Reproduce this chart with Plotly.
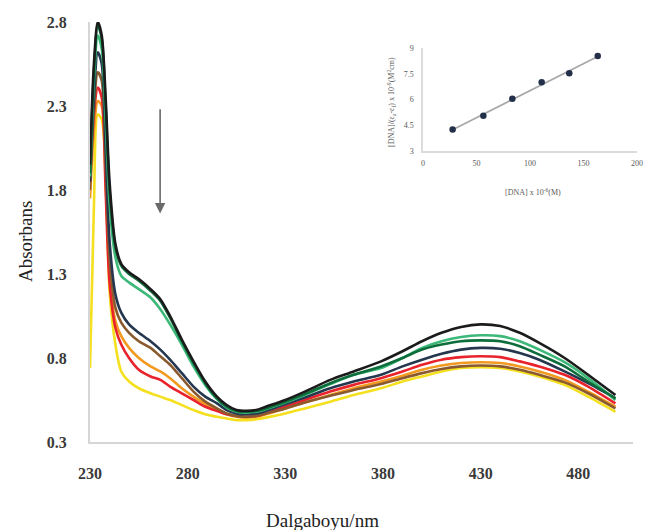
import numpy as np
import plotly.graph_objects as go

# ---- UV-Vis titration spectra ----
wavelength = [230, 232, 234, 236, 238, 240, 243, 246, 250, 255, 261, 266, 271, 277, 283,
              289, 295, 300, 305, 310, 315, 320, 330, 340, 353, 365, 379, 390, 400, 410,
              420, 430, 440, 450, 460, 473, 485, 499]

abs_black = [1.95, 2.55, 2.80, 2.72, 2.35, 1.85, 1.48, 1.36, 1.31, 1.27, 1.21, 1.15, 1.05, 0.91, 0.78,
             0.66, 0.57, 0.52, 0.49, 0.485, 0.49, 0.51, 0.55, 0.60, 0.67, 0.72, 0.78, 0.84, 0.90, 0.95,
             0.985, 1.00, 0.99, 0.95, 0.89, 0.80, 0.70, 0.58]
abs_darkgreen = [1.90, 2.50, 2.78, 2.70, 2.30, 1.80, 1.46, 1.35, 1.30, 1.26, 1.20, 1.14, 1.04, 0.90, 0.77,
                 0.65, 0.56, 0.51, 0.485, 0.48, 0.485, 0.50, 0.54, 0.585, 0.65, 0.70, 0.75, 0.80, 0.85, 0.88,
                 0.90, 0.905, 0.90, 0.87, 0.82, 0.75, 0.66, 0.56]
abs_seagreen = [1.88, 2.45, 2.72, 2.64, 2.22, 1.72, 1.40, 1.29, 1.25, 1.21, 1.16, 1.09, 1.00, 0.88, 0.75,
                0.64, 0.555, 0.505, 0.48, 0.475, 0.48, 0.495, 0.535, 0.58, 0.645, 0.70, 0.74, 0.80, 0.86, 0.90,
                0.925, 0.935, 0.93, 0.90, 0.85, 0.775, 0.68, 0.55]
abs_navy = [1.85, 2.35, 2.62, 2.55, 2.05, 1.50, 1.18, 1.07, 1.00, 0.95, 0.90, 0.85, 0.79, 0.71, 0.63,
            0.57, 0.53, 0.49, 0.47, 0.465, 0.47, 0.485, 0.525, 0.565, 0.62, 0.66, 0.70, 0.75, 0.79, 0.825,
            0.85, 0.86, 0.855, 0.83, 0.79, 0.72, 0.65, 0.56]
abs_brown = [1.80, 2.28, 2.50, 2.45, 1.95, 1.40, 1.10, 1.01, 0.95, 0.90, 0.86, 0.81, 0.76, 0.68, 0.60,
             0.54, 0.50, 0.47, 0.455, 0.45, 0.455, 0.47, 0.50, 0.535, 0.575, 0.61, 0.645, 0.68, 0.71, 0.735,
             0.75, 0.755, 0.75, 0.73, 0.70, 0.655, 0.59, 0.50]
abs_red = [1.85, 2.25, 2.41, 2.35, 1.80, 1.25, 0.98, 0.88, 0.80, 0.73, 0.69, 0.67, 0.63, 0.59, 0.55,
           0.51, 0.485, 0.465, 0.455, 0.45, 0.455, 0.47, 0.51, 0.55, 0.60, 0.64, 0.68, 0.72, 0.76, 0.79,
           0.805, 0.81, 0.805, 0.78, 0.75, 0.70, 0.63, 0.53]
abs_orange = [1.75, 2.15, 2.33, 2.30, 1.85, 1.30, 1.02, 0.93, 0.86, 0.80, 0.75, 0.72, 0.68, 0.62, 0.57,
              0.525, 0.49, 0.465, 0.45, 0.445, 0.45, 0.465, 0.50, 0.535, 0.58, 0.62, 0.66, 0.695, 0.73, 0.755,
              0.77, 0.775, 0.77, 0.75, 0.72, 0.67, 0.60, 0.51]
abs_yellow = [0.74, 1.70, 2.25, 2.22, 1.90, 1.20, 0.88, 0.72, 0.66, 0.62, 0.59, 0.57, 0.55, 0.52, 0.49,
              0.465, 0.45, 0.44, 0.43, 0.43, 0.435, 0.445, 0.47, 0.50, 0.54, 0.58, 0.62, 0.66, 0.69, 0.72,
              0.74, 0.745, 0.74, 0.72, 0.69, 0.64, 0.57, 0.48]

x_ticks = [230, 280, 330, 380, 430, 480]
y_ticks = [0.3, 0.8, 1.3, 1.8, 2.3, 2.8]

# ---- inset: [DNA]/(ea-ef) vs [DNA] ----
dna_conc = [27.7, 56.4, 83.5, 110.9, 136.7, 163.3]
dna_ratio = [4.25, 5.06, 6.05, 7.00, 7.53, 8.53]
inset_x_ticks = [0, 50, 100, 150, 200]
inset_y_ticks = [3, 4.5, 6, 7.5, 9]

# ---- figure geometry (pixels) ----
W, H = 646, 530
L, T, B = 90, 22, 442          # plot area left / top / bottom edges
R = W                          # plot area extends to the right edge
PW, PH = R - L, B - T


def px(x):
    return (x - L) / PW


def py(y):
    return (B - y) / PH


series = [
    (abs_yellow, "#f4e01e"),
    (abs_orange, "#f29a1f"),
    (abs_red, "#e8232b"),
    (abs_brown, "#8a5a2e"),
    (abs_navy, "#25364f"),
    (abs_seagreen, "#3cb878"),
    (abs_darkgreen, "#0d6e3c"),
    (abs_black, "#1b1b1b"),
]

fig = go.Figure()
for vals, col in series:
    fig.add_trace(go.Scatter(
        x=wavelength, y=vals, mode="lines",
        line=dict(color=col, width=2.6, shape="spline", smoothing=0.8),
        showlegend=False, hoverinfo="skip",
    ))

# inset trend line (least squares) and points
slope, intercept = np.polyfit(dna_conc, dna_ratio, 1)
fit_x = [dna_conc[0], dna_conc[-1]]
fit_y = [slope * v + intercept for v in fit_x]
fig.add_trace(go.Scatter(
    x=fit_x, y=fit_y, mode="lines", xaxis="x2", yaxis="y2",
    line=dict(color="#a8a8a8", width=1.6), showlegend=False, hoverinfo="skip",
))
fig.add_trace(go.Scatter(
    x=dna_conc, y=dna_ratio, mode="markers", xaxis="x2", yaxis="y2",
    marker=dict(color="#22304a", size=6.5), showlegend=False,
))

tick_font = dict(family="Liberation Serif", size=16, color="#3a3a3a", weight="bold")
small_font = dict(family="Liberation Serif", size=8, color="#5a5a5a")

fig.update_layout(
    width=W, height=H,
    margin=dict(l=L, r=W - R, t=T, b=H - B, autoexpand=False),
    paper_bgcolor="white", plot_bgcolor="white",
    xaxis=dict(
        domain=[0, px(633)], range=[230, 508],
        tickvals=x_ticks, ticktext=[str(v) for v in x_ticks],
        showgrid=False, zeroline=False, showline=True,
        linecolor="#d6d6d6", linewidth=2, ticks="", tickfont=tick_font,
        ticklabelstandoff=16,
    ),
    yaxis=dict(
        domain=[0, 1], range=[0.3, 2.8],
        tickvals=y_ticks, ticktext=[f"{v:.1f}" for v in y_ticks],
        showgrid=False, zeroline=False, showline=True,
        linecolor="#d6d6d6", linewidth=2, ticks="", tickfont=tick_font,
        ticklabelstandoff=18,
    ),
    xaxis2=dict(
        domain=[px(423), px(637)], range=[0, 200], anchor="y2",
        tickvals=inset_x_ticks, showgrid=False, zeroline=False,
        showline=True, linecolor="#dcdcdc", linewidth=1.5, ticks="",
        tickfont=small_font, ticklabelstandoff=4,
    ),
    yaxis2=dict(
        domain=[py(151), py(48)], range=[3, 9], anchor="x2",
        tickvals=inset_y_ticks, ticktext=["3", "4.5", "6", "7.5", "9"],
        showgrid=False, zeroline=False,
        showline=True, linecolor="#dcdcdc", linewidth=1.5, ticks="",
        tickfont=small_font, ticklabelstandoff=6,
    ),
    annotations=[
        dict(text="Dalgaboyu/nm", xref="paper", yref="paper", x=px(322), y=py(520),
             showarrow=False, xanchor="center", yanchor="middle",
             font=dict(family="Liberation Serif", size=19, color="#222222")),
        dict(text="Absorbans", xref="paper", yref="paper", x=px(25), y=py(242),
             showarrow=False, textangle=-90, xanchor="center", yanchor="middle",
             font=dict(family="Liberation Serif", size=19, color="#222222")),
        dict(text="[DNA] x 10<sup>-6</sup>(M)", xref="paper", yref="paper",
             x=px(533), y=py(192), showarrow=False, xanchor="center", yanchor="middle",
             font=small_font),
        dict(text="[DNA]/(ε<sub>a</sub>-ε<sub>f</sub>) x 10<sup>-9</sup>(M<sup>2</sup>cm)",
             xref="paper", yref="paper", x=px(391), y=py(102), showarrow=False,
             textangle=-90, xanchor="center", yanchor="middle", font=small_font),
        # arrow showing the hypochromic trend
        dict(x=265.9, y=1.66, ax=265.9, ay=2.29, xref="x", yref="y", axref="x", ayref="y",
             text="", showarrow=True, arrowhead=2, arrowsize=1.3, arrowwidth=1.6,
             arrowcolor="#6a6a6a"),
    ],
)

fig.write_html("out.html")
